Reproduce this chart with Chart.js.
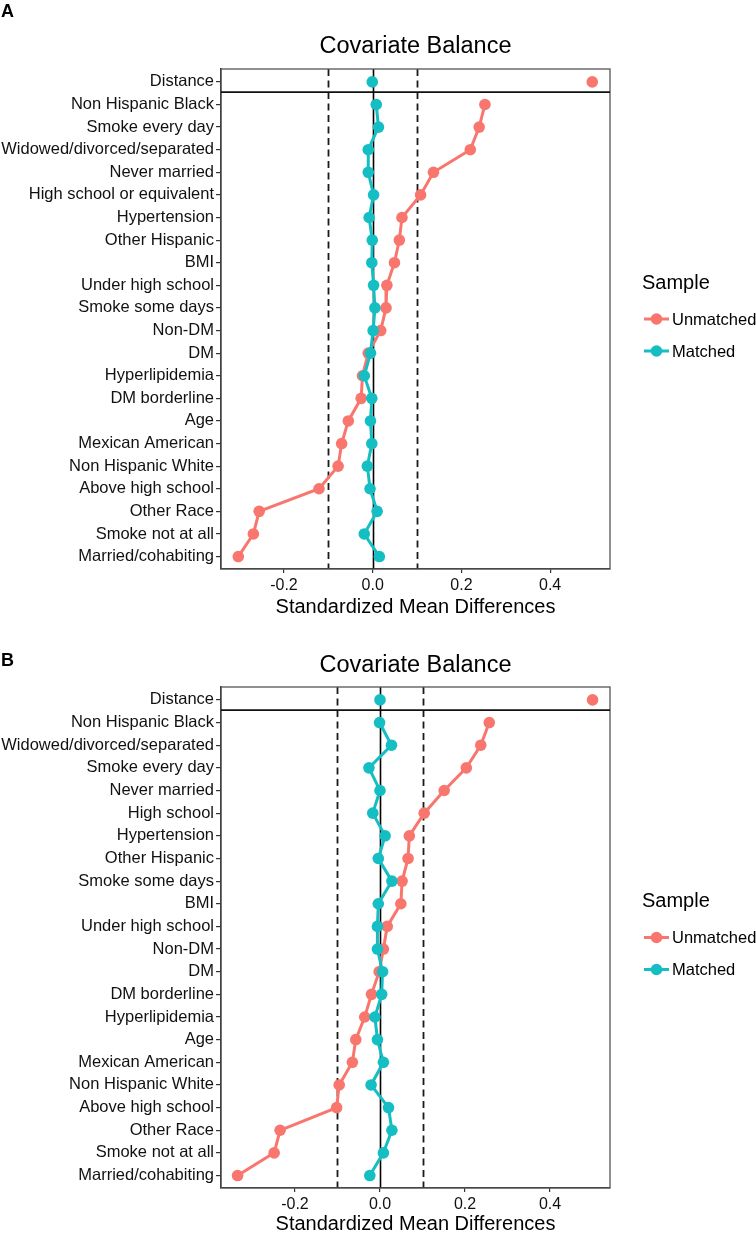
<!DOCTYPE html>
<html>
<head>
<meta charset="utf-8">
<script src="https://cdn.jsdelivr.net/npm/chart.js@4/dist/chart.umd.min.js"></script>
<style>
  body { margin: 0; background: #fff; }
  canvas { display: block; }
</style>
</head>
<body>
<canvas id="chartA" width="756" height="617"></canvas>
<canvas id="chartB" width="756" height="617"></canvas>
<script>
// rows listed top to bottom, first one is the Distance facet
const labelsA = ["Distance", "Non Hispanic Black", "Smoke every day", "Widowed/divorced/separated", "Never married",
  "High school or equivalent", "Hypertension", "Other Hispanic", "BMI", "Under high school", "Smoke some days",
  "Non-DM", "DM", "Hyperlipidemia", "DM borderline", "Age", "Mexican American", "Non Hispanic White",
  "Above high school", "Other Race", "Smoke not at all", "Married/cohabiting"];
const unmatchedA = [0.495, 0.253, 0.240, 0.220, 0.137, 0.108, 0.066, 0.060, 0.049, 0.032, 0.030,
  0.018, -0.010, -0.023, -0.026, -0.055, -0.070, -0.078, -0.121, -0.256, -0.269, -0.303];
const matchedA = [-0.001, 0.008, 0.013, -0.010, -0.010, 0.002, -0.008, -0.001, -0.002, 0.002, 0.005,
  0.001, -0.005, -0.019, -0.002, -0.005, -0.002, -0.012, -0.006, 0.010, -0.019, 0.015];

const labelsB = ["Distance", "Non Hispanic Black", "Widowed/divorced/separated", "Smoke every day", "Never married",
  "High school", "Hypertension", "Other Hispanic", "Smoke some days", "BMI", "Under high school",
  "Non-DM", "DM", "DM borderline", "Hyperlipidemia", "Age", "Mexican American", "Non Hispanic White",
  "Above high school", "Other Race", "Smoke not at all", "Married/cohabiting"];
const unmatchedB = [0.500, 0.257, 0.237, 0.203, 0.151, 0.104, 0.069, 0.066, 0.052, 0.049, 0.017,
  0.008, -0.002, -0.020, -0.036, -0.057, -0.065, -0.096, -0.102, -0.235, -0.249, -0.335];
const matchedB = [0.000, -0.001, 0.027, -0.026, 0.000, -0.017, 0.012, -0.004, 0.028, -0.004, -0.006,
  -0.006, 0.006, 0.004, -0.012, -0.006, 0.008, -0.021, 0.020, 0.028, 0.008, -0.024];

const xTicks = [-0.2, 0.0, 0.2, 0.4];
const threshold = [-0.1, 0.1];
const seriesNames = ["Unmatched", "Matched"];

const RED = "#F8766D";
const TEAL = "#14BEC3";
const FONT = "'Liberation Sans', Arial, Helvetica, sans-serif";

const panelPlugin = {
  id: "panel",
  beforeDatasetsDraw(chart, args, opts) {
    const { ctx, chartArea: a, scales: { x } } = chart;
    ctx.save();
    ctx.strokeStyle = "#000";
    ctx.lineWidth = 1.6;
    let px = Math.round(x.getPixelForValue(0)) + 0.5;
    ctx.beginPath(); ctx.moveTo(px, a.top); ctx.lineTo(px, a.bottom); ctx.stroke();
    ctx.setLineDash([7, 4.5]);
    ctx.strokeStyle = "#1a1a1a";
    ctx.lineWidth = 1.8;
    threshold.forEach(v => {
      px = Math.round(x.getPixelForValue(v)) + 0.5;
      ctx.beginPath(); ctx.moveTo(px, a.top); ctx.lineTo(px, a.bottom); ctx.stroke();
    });
    ctx.restore();
  },
  afterDraw(chart, args, opts) {
    const { ctx, chartArea: a, scales: { y } } = chart;
    ctx.save();
    // panel border + facet separator
    ctx.strokeStyle = "#555";
    ctx.lineWidth = 1.3;
    ctx.strokeRect(a.left, a.top, a.right - a.left, a.bottom - a.top);
    ctx.strokeStyle = "#111";
    ctx.lineWidth = 1.7;
    const sy = y.getPixelForValue(opts.separator);
    ctx.beginPath(); ctx.moveTo(a.left, sy); ctx.lineTo(a.right, sy); ctx.stroke();

    // title and panel letter
    ctx.fillStyle = "#000";
    ctx.font = "23.5px " + FONT;
    ctx.textAlign = "center";
    ctx.textBaseline = "alphabetic";
    ctx.fillText("Covariate Balance", (a.left + a.right) / 2, opts.titleY);
    ctx.font = "bold 18px " + FONT;
    ctx.textAlign = "left";
    ctx.fillText(opts.letter, 1, opts.letterY);

    // legend
    const cy = (a.top + a.bottom) / 2;
    ctx.textBaseline = "middle";
    ctx.font = "20px " + FONT;
    ctx.fillText("Sample", 642, cy - 36);
    ctx.font = "16.5px " + FONT;
    [RED, TEAL].forEach((c, i) => {
      const ly = cy + i * 32;
      ctx.strokeStyle = c;
      ctx.fillStyle = c;
      ctx.lineWidth = 3;
      ctx.beginPath(); ctx.moveTo(644, ly); ctx.lineTo(669, ly); ctx.stroke();
      ctx.beginPath(); ctx.arc(656.5, ly, 5.8, 0, Math.PI * 2); ctx.fill();
      ctx.fillStyle = "#000";
      ctx.fillText(seriesNames[i], 672, ly + 1);
    });
    ctx.restore();
  }
};

function buildPanel(id, letter, labels, unmatched, matched, lay) {
  const n = labels.length;
  const rowOf = i => n - 1 - i;
  const pts = (vals, from, to) => vals.slice(from, to).map((v, k) => ({ x: v, y: rowOf(from + k) }));
  const style = (c, ord) => ({
    borderColor: c, backgroundColor: c, borderWidth: 3,
    pointRadius: 5.8, pointBorderWidth: 0, pointHoverRadius: 5.8, order: ord
  });

  new Chart(document.getElementById(id).getContext("2d"), {
    type: "scatter",
    data: {
      datasets: [
        { label: seriesNames[0], data: pts(unmatched, 1, n), showLine: true, ...style(RED, 2) },
        { label: seriesNames[0], data: pts(unmatched, 0, 1), showLine: false, ...style(RED, 2) },
        { label: seriesNames[1], data: pts(matched, 1, n), showLine: true, ...style(TEAL, 1) },
        { label: seriesNames[1], data: pts(matched, 0, 1), showLine: false, ...style(TEAL, 1) }
      ]
    },
    options: {
      responsive: false,
      animation: false,
      events: [],
      layout: { padding: { top: lay.top, left: 0, right: 146, bottom: 0 } },
      plugins: {
        legend: { display: false },
        tooltip: { enabled: false },
        panel: { letter: letter, letterY: lay.letterY, titleY: lay.titleY, separator: 20.55 }
      },
      scales: {
        x: {
          type: "linear",
          min: lay.xMin, max: lay.xMax,
          afterBuildTicks: s => { s.ticks = xTicks.map(v => ({ value: v })); },
          afterFit: s => { s.height = lay.xHeight; },
          grid: { drawOnChartArea: false, drawTicks: true, tickLength: 4, color: "#333", lineWidth: 1.2 },
          border: { display: true, color: "#333", width: 1.3 },
          ticks: {
            callback: v => v.toFixed(1),
            font: { family: FONT, size: 16 }, color: "#111", padding: 3, maxRotation: 0
          },
          title: {
            display: true, text: "Standardized Mean Differences",
            font: { family: FONT, size: 20, lineHeight: 1 }, color: "#000", padding: 0
          }
        },
        y: {
          type: "linear",
          min: -0.55, max: 21.57,
          afterBuildTicks: s => { s.ticks = labels.map((_, i) => ({ value: rowOf(i) })); },
          afterFit: s => { s.width = 221; },
          grid: { drawOnChartArea: false, drawTicks: true, tickLength: 5, color: "#333", lineWidth: 1.2 },
          border: { display: true, color: "#222", width: 1.4 },
          ticks: {
            autoSkip: false,
            callback: v => labels[n - 1 - v],
            font: { family: FONT, size: 16.5 }, color: "#111", padding: 2
          }
        }
      }
    },
    plugins: [panelPlugin]
  });
}

buildPanel("chartA", "A", labelsA, unmatchedA, matchedA,
  { top: 69, xHeight: 48, xMin: -0.342, xMax: 0.535, titleY: 52.5, letterY: 17 });
buildPanel("chartB", "B", labelsB, unmatchedB, matchedB,
  { top: 70, xHeight: 46, xMin: -0.374, xMax: 0.541, titleY: 55, letterY: 49 });
</script>
</body>
</html>
